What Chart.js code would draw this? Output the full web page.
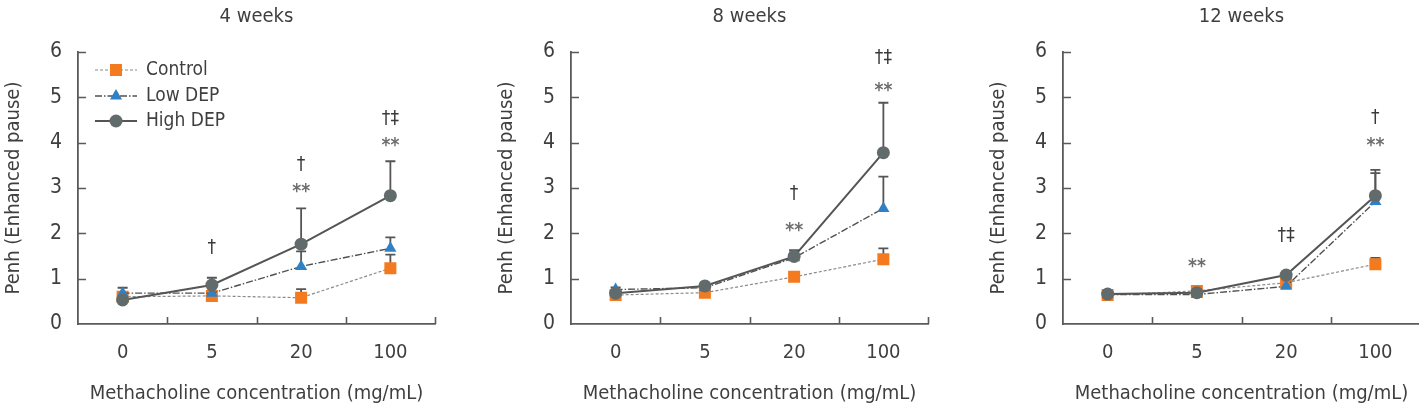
<!DOCTYPE html>
<html>
<head>
<meta charset="utf-8">
<script src="https://cdn.jsdelivr.net/npm/chart.js@4"></script>
<style>
  html, body { margin: 0; padding: 0; background: #ffffff; overflow: hidden; }
  body { width: 1419px; height: 413px; position: relative; }
  .panel { position: absolute; top: 0; width: 473px; height: 413px; }
</style>
</head>
<body>
<div class="panel" style="left:0px"><canvas id="c1" width="473" height="413"></canvas></div>
<div class="panel" style="left:492.7px"><canvas id="c2" width="473" height="413"></canvas></div>
<div class="panel" style="left:985.3px"><canvas id="c3" width="473" height="413"></canvas></div>
<script>
// ---------------- data ----------------
const categories = ["0", "5", "20", "100"];
const panelTitles = ["4 weeks", "8 weeks", "12 weeks"];
const seriesNames = ["Control", "Low DEP", "High DEP"];
const yTicks = [0, 1, 2, 3, 4, 5, 6];

// 4 weeks
const control4 = [0.60, 0.62, 0.58, 1.23];
const lowDep4  = [0.68, 0.68, 1.27, 1.67];
const highDep4 = [0.53, 0.86, 1.76, 2.83];
const controlErr4 = [0.10, 0.05, 0.19, 0.30];
const lowDepErr4  = [0.12, 0.05, 0.33, 0.24];
const highDepErr4 = [0.10, 0.16, 0.79, 0.76];
const marks4 = [
  { cat: "5",   value: 1.68, text: "†" },
  { cat: "20",  value: 3.50, text: "†" },
  { cat: "20",  value: 3.00, text: "**" },
  { cat: "100", value: 4.52, text: "†‡" },
  { cat: "100", value: 4.02, text: "**" }
];

// 8 weeks
const control8 = [0.64, 0.69, 1.04, 1.43];
const lowDep8  = [0.76, 0.80, 1.46, 2.55];
const highDep8 = [0.68, 0.84, 1.49, 3.78];
const controlErr8 = [0.05, 0.05, 0.08, 0.24];
const lowDepErr8  = [0.05, 0.05, 0.12, 0.70];
const highDepErr8 = [0.05, 0.05, 0.14, 1.10];
const marks8 = [
  { cat: "20",  value: 2.86, text: "†" },
  { cat: "20",  value: 2.13, text: "**" },
  { cat: "100", value: 5.86, text: "†‡" },
  { cat: "100", value: 5.22, text: "**" }
];

// 12 weeks
const control12 = [0.64, 0.73, 0.91, 1.32];
const lowDep12  = [0.65, 0.65, 0.83, 2.70];
const highDep12 = [0.66, 0.69, 1.08, 2.83];
const controlErr12 = [0.05, 0.05, 0.05, 0.14];
const lowDepErr12  = [0.05, 0.05, 0.05, 0.63];
const highDepErr12 = [0.05, 0.05, 0.05, 0.57];
const marks12 = [
  { cat: "5",   value: 1.34, text: "**" },
  { cat: "20",  value: 1.93, text: "†‡" },
  { cat: "100", value: 4.54, text: "†" },
  { cat: "100", value: 4.02, text: "**" }
];

// ---------------- styles ----------------
const FONT = "'Liberation Sans Narrow', 'DejaVu Sans Condensed', 'Roboto', sans-serif";
const TEXT = "#3f3f3f";
const AXIS = "#5a5a5a";

const seriesStyles = [
  { color: "#f47a20", line: "#8a8a8a", width: 1.2, dash: [3, 2], pointStyle: "rect", radius: 8.5 },
  { color: "#2f80c4", line: "#505050", width: 1.4, dash: [7, 2, 1.5, 2], pointStyle: "triangle", radius: 7 },
  { color: "#626b6b", line: "#555555", width: 2, dash: [], pointStyle: "circle", radius: 6.5 }
];

function makeDatasets(vals, errs) {
  return vals.map((v, i) => ({
    label: seriesNames[i],
    data: v,
    errors: errs[i],
    borderColor: seriesStyles[i].line,
    borderWidth: seriesStyles[i].width,
    borderDash: seriesStyles[i].dash,
    backgroundColor: seriesStyles[i].color,
    pointBackgroundColor: seriesStyles[i].color,
    pointBorderColor: seriesStyles[i].color,
    pointBorderWidth: 0,
    pointStyle: seriesStyles[i].pointStyle,
    pointRadius: seriesStyles[i].radius,
    tension: 0,
    fill: false,
    order: 3 - i
  }));
}

// error bars (upper), drawn below the markers
const errorBarPlugin = {
  id: "errorBars",
  beforeDatasetsDraw(chart) {
    const ctx = chart.ctx;
    const xs = chart.scales.x, ys = chart.scales.y;
    ctx.save();
    ctx.strokeStyle = "#555555";
    ctx.lineWidth = 1.8;
    chart.data.datasets.forEach(ds => {
      ds.data.forEach((v, j) => {
        const e = ds.errors[j];
        if (!e) return;
        const x = xs.getPixelForValue(j);
        const y0 = ys.getPixelForValue(v);
        const y1 = ys.getPixelForValue(v + e);
        ctx.beginPath();
        ctx.moveTo(x, y0); ctx.lineTo(x, y1);
        ctx.moveTo(x - 5, y1); ctx.lineTo(x + 5, y1);
        ctx.stroke();
      });
    });
    ctx.restore();
  }
};

// inward tick marks
const tickMarkPlugin = {
  id: "inTicks",
  afterDraw(chart) {
    const ctx = chart.ctx;
    const xs = chart.scales.x, ys = chart.scales.y;
    const a = chart.chartArea;
    ctx.save();
    ctx.strokeStyle = AXIS;
    ctx.lineWidth = 1.6;
    ctx.beginPath();
    yTicks.forEach(t => {
      if (t === 0) return;
      const y = Math.round(ys.getPixelForValue(t)) + 0.5;
      ctx.moveTo(a.left, y); ctx.lineTo(a.left + 8, y);
    });
    for (let j = 1; j <= categories.length; j++) {
      const x = Math.round(xs.getPixelForValue(j - 0.5)) + 0.5;
      ctx.moveTo(x, a.bottom); ctx.lineTo(x, a.bottom - 7);
    }
    ctx.stroke();
    ctx.restore();
  }
};

// significance marks
const marksPlugin = {
  id: "sigMarks",
  afterDatasetsDraw(chart, args, opts) {
    const ctx = chart.ctx;
    const xs = chart.scales.x, ys = chart.scales.y;
    ctx.save();
    ctx.textAlign = "center";
    ctx.textBaseline = "middle";
    (opts.items || []).forEach(m => {
      const x = xs.getPixelForValue(categories.indexOf(m.cat));
      const y = ys.getPixelForValue(m.value);
      if (m.text === "**") {
        ctx.fillStyle = "#6e6e6e";
        ctx.font = "bold 19px " + FONT;
        ctx.fillText("**", x, y + 4);
      } else {
        ctx.fillStyle = "#3a3a3a";
        ctx.font = "19px " + FONT;
        ctx.fillText(m.text, x, y);
      }
    });
    ctx.restore();
  }
};

// legend with line samples (first panel)
const lineLegendPlugin = {
  id: "lineLegend",
  afterDraw(chart, args, opts) {
    if (!opts.show) return;
    const ctx = chart.ctx;
    const rows = [70, 96, 121];
    ctx.save();
    chart.data.datasets.forEach((ds, i) => {
      const y = rows[i];
      ctx.strokeStyle = ds.borderColor;
      ctx.lineWidth = ds.borderWidth;
      ctx.setLineDash(ds.borderDash);
      ctx.beginPath();
      ctx.moveTo(95, y); ctx.lineTo(137, y);
      ctx.stroke();
      ctx.setLineDash([]);
      ctx.fillStyle = ds.pointBackgroundColor;
      Chart.helpers.drawPoint(ctx, { pointStyle: ds.pointStyle, radius: ds.pointRadius, borderWidth: 0 }, 116, y);
      ctx.fillStyle = TEXT;
      ctx.font = "19px " + FONT;
      ctx.textAlign = "left";
      ctx.textBaseline = "middle";
      ctx.fillText(ds.label, 146, y);
    });
    ctx.restore();
  }
};

function makeChart(id, title, vals, errs, marks, showLegend) {
  return new Chart(document.getElementById(id), {
    type: "line",
    data: { labels: categories, datasets: makeDatasets(vals, errs) },
    plugins: [errorBarPlugin, tickMarkPlugin, marksPlugin, lineLegendPlugin],
    options: {
      responsive: false,
      animation: false,
      layout: { padding: { left: 0, right: 38, top: 0, bottom: 0 } },
      plugins: {
        legend: { display: false },
        tooltip: { enabled: false },
        title: {
          display: true, text: title, fullSize: false, color: TEXT,
          font: { family: FONT, size: 20, weight: "normal" },
          padding: { top: 5, bottom: 23 }
        },
        sigMarks: { items: marks },
        lineLegend: { show: showLegend }
      },
      scales: {
        x: {
          type: "category",
          offset: true,
          grid: { display: true, drawOnChartArea: false, drawTicks: false, offset: true, color: "rgba(0,0,0,0)" },
          border: { display: true, color: AXIS, width: 1.8 },
          ticks: { color: TEXT, padding: 17, font: { family: FONT, size: 20 } },
          title: {
            display: true, text: "Methacholine concentration (mg/mL)", color: TEXT,
            font: { family: FONT, size: 20 }, padding: { top: 0, bottom: 7 }
          },
          afterFit: s => { s.height = 89; }
        },
        y: {
          min: 0, max: 6,
          afterBuildTicks: s => { s.ticks = yTicks.map(v => ({ value: v })); },
          grid: { display: true, drawOnChartArea: false, drawTicks: false, color: "rgba(0,0,0,0)" },
          border: { display: true, color: AXIS, width: 1.8 },
          ticks: { color: TEXT, padding: 16, font: { family: FONT, size: 21 } },
          title: {
            display: true, text: "Penh (Enhanced pause)", color: TEXT,
            font: { family: FONT, size: 20 }, padding: { top: 2, bottom: 0 }
          },
          afterFit: s => { s.width = 78; }
        }
      }
    }
  });
}

makeChart("c1", panelTitles[0], [control4, lowDep4, highDep4], [controlErr4, lowDepErr4, highDepErr4], marks4, true);
makeChart("c2", panelTitles[1], [control8, lowDep8, highDep8], [controlErr8, lowDepErr8, highDepErr8], marks8, false);
makeChart("c3", panelTitles[2], [control12, lowDep12, highDep12], [controlErr12, lowDepErr12, highDepErr12], marks12, false);
</script>
</body>
</html>
